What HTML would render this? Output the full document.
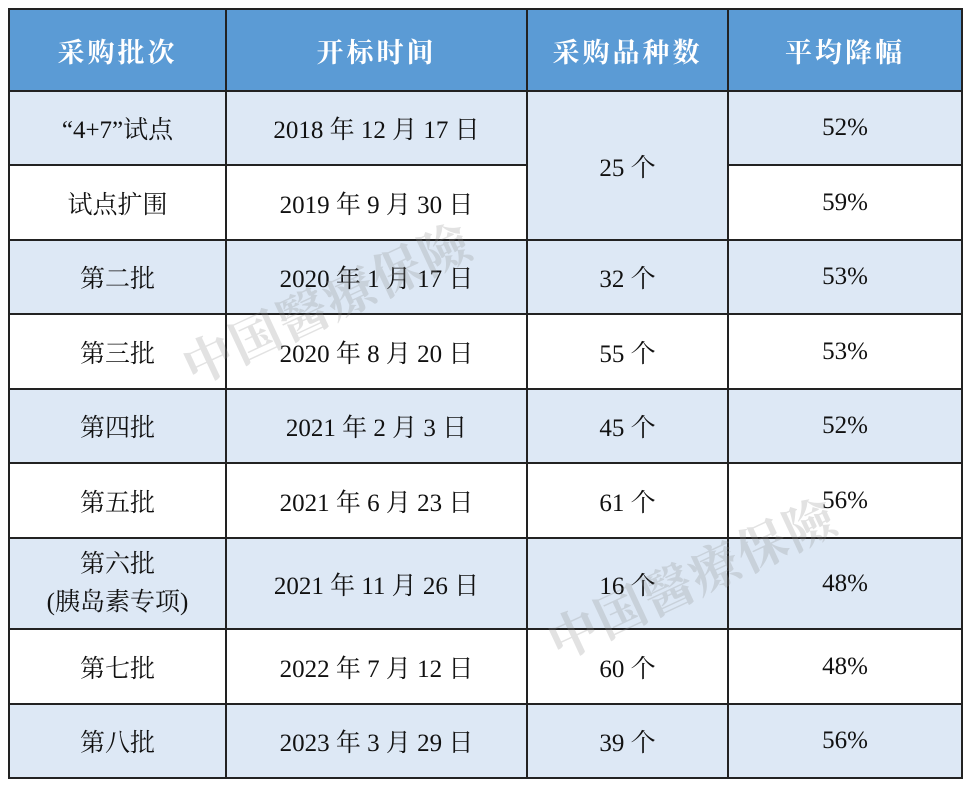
<!DOCTYPE html>
<html><head><meta charset="utf-8"><style>
body{margin:0;width:966px;height:786px;background:#fff;position:relative;overflow:hidden}
table{position:absolute;left:8px;top:8px;border-collapse:collapse;table-layout:fixed;width:953px}
td{border:2px solid #222;text-align:center;vertical-align:middle;padding:0;font-family:"Liberation Serif","Noto Serif CJK SC",serif;font-size:25px;color:#111}
tr.h td{background:#5b9bd5;color:#fff;font-size:27px;font-weight:bold;height:80px;letter-spacing:3px}
.s td,td.s{background:#dde8f5}
.w td{background:#fff}
.wm{position:absolute;font-family:"Noto Serif CJK SC",serif;font-weight:bold;font-size:50px;color:rgba(140,140,140,0.25);transform:rotate(-25deg);white-space:nowrap;letter-spacing:2px}
</style></head><body>
<table>
<colgroup><col style="width:217px"><col style="width:301px"><col style="width:201px"><col style="width:234px"></colgroup>
<tr class="h"><td>采购批次</td><td>开标时间</td><td>采购品种数</td><td>平均降幅</td></tr>
<tr class="s" style="height:74px"><td>“4+7”试点</td><td>2018 年 12 月 17 日</td><td rowspan="2" class="s">25 个</td><td>52%</td></tr>
<tr class="w" style="height:75px"><td>试点扩围</td><td>2019 年 9 月 30 日</td><td>59%</td></tr>
<tr class="s" style="height:74px"><td>第二批</td><td>2020 年 1 月 17 日</td><td>32 个</td><td>53%</td></tr>
<tr class="w" style="height:75px"><td>第三批</td><td>2020 年 8 月 20 日</td><td>55 个</td><td>53%</td></tr>
<tr class="s" style="height:74px"><td>第四批</td><td>2021 年 2 月 3 日</td><td>45 个</td><td>52%</td></tr>
<tr class="w" style="height:75px"><td>第五批</td><td>2021 年 6 月 23 日</td><td>61 个</td><td>56%</td></tr>
<tr class="s" style="height:91px"><td style="line-height:38px">第六批<br>(胰岛素专项)</td><td>2021 年 11 月 26 日</td><td>16 个</td><td>48%</td></tr>
<tr class="w" style="height:75px"><td>第七批</td><td>2022 年 7 月 12 日</td><td>60 个</td><td>48%</td></tr>
<tr class="s" style="height:74px"><td>第八批</td><td>2023 年 3 月 29 日</td><td>39 个</td><td>56%</td></tr>
</table>
<div class="wm" style="left:170px;top:265px">中国醫療保險</div>
<div class="wm" style="left:535px;top:540px">中国醫療保險</div>
</body></html>
